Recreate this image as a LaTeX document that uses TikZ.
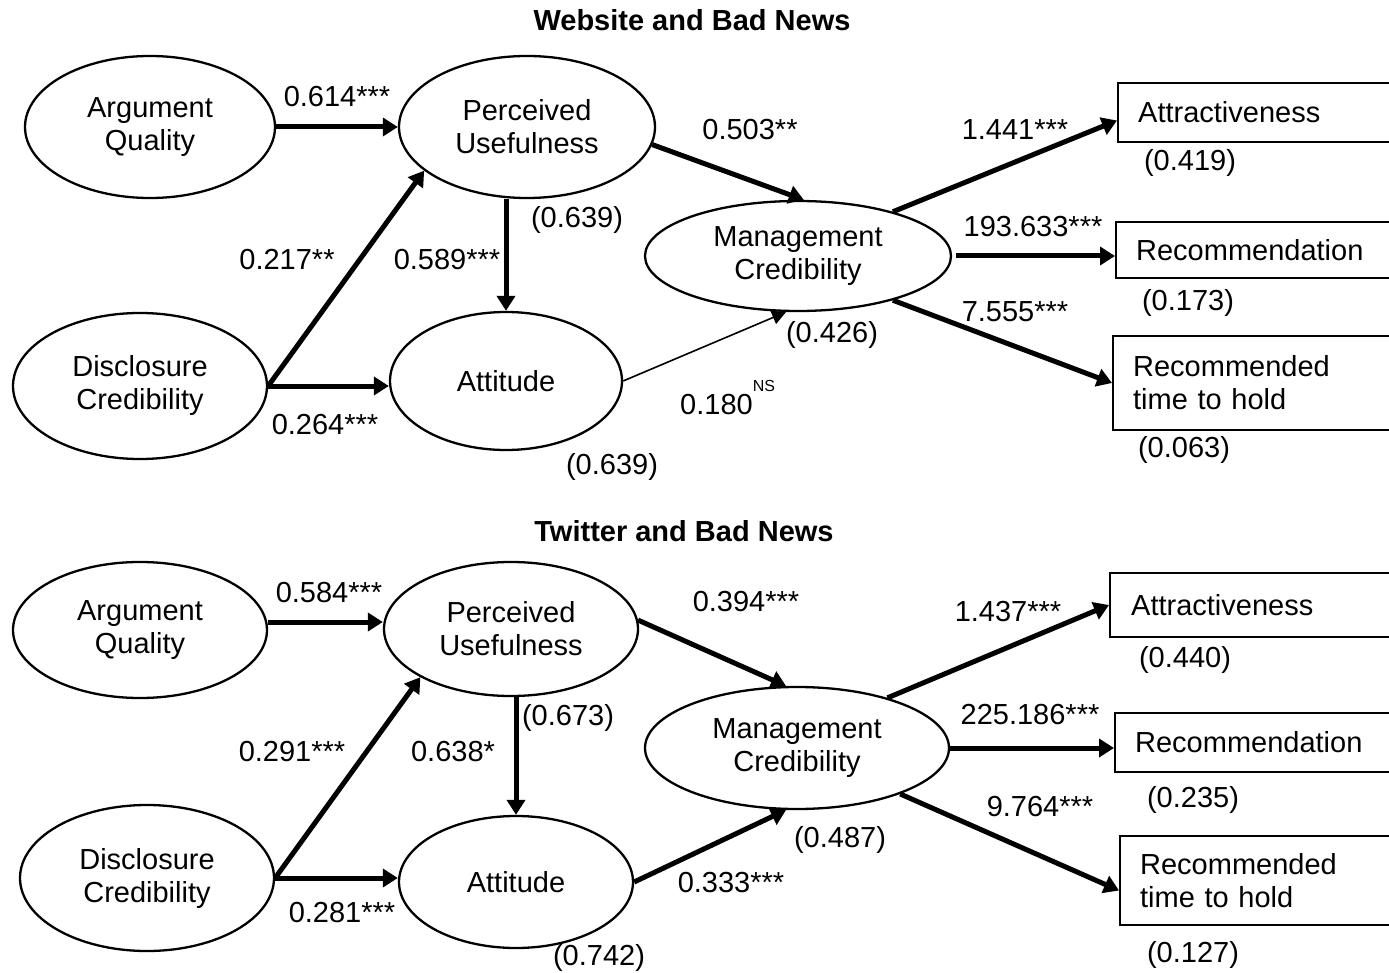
\documentclass[tikz,border=0pt]{standalone}
\usepackage{fontspec}
\setmainfont{Liberation Sans}
\usetikzlibrary{arrows.meta,shapes.geometric,calc}
\begin{document}
\begin{tikzpicture}[x=1pt,y=-1pt,
  font=\fontsize{29}{33}\selectfont,
  lat/.style={ellipse,draw,line width=2.3pt,inner sep=0pt,align=center},
  obs/.style={draw,line width=2.3pt,align=left,inner xsep=20pt,inner ysep=0pt,anchor=west},
  pathar/.style={line width=5pt,-{Triangle[length=15pt,width=18pt]}},
  thinar/.style={line width=1.6pt,-{Triangle[length=14pt,width=14pt]}},
  lbl/.style={inner sep=0pt},
  ttl/.style={inner sep=0pt,font=\fontsize{29}{33}\selectfont\bfseries}]
\useasboundingbox (0,0) rectangle (1389,973);
\fill[white] (0,0) rectangle (1389,973);

% ---------------- top: Website and Bad News
\node[ttl] (t1) at (692,20) {Website and Bad News};
\node[lat,minimum width=250pt,minimum height=142pt] (AQ) at (150,127) {Argument\\Quality};
\node[lat,minimum width=256pt,minimum height=142pt] (PU) at (527,127) {Perceived\\Usefulness};
\node[lat,minimum width=254pt,minimum height=146pt] (DC) at (140,386) {Disclosure\\Credibility};
\node[lat,minimum width=232pt,minimum height=138pt] (Att) at (506,381) {Attitude};
\node[lat,minimum width=306pt,minimum height=110pt] (MC) at (798,256) {Management\\Credibility};
\node[obs,text width=238pt,minimum height=59pt] (Attr) at (1117,112.5) {Attractiveness};
\node[obs,text width=240pt,minimum height=56pt] (Rec) at (1115,250) {Recommendation};
\node[obs,text width=243pt,minimum height=94pt] (RT) at (1112,383) {Recommended\\time to hold};

\draw[pathar] (AQ.east) -- (PU.west);
\draw[pathar] (DC.east) -- (PU.203);
\draw[pathar] (DC.east) -- (DC.east -| Att.west);
\draw[pathar] (Att.north |- PU.south) -- (Att.north);
\draw[pathar] (PU.-8) -- (MC.84);
\draw[thinar] (Att.east) -- (MC.258);
\draw[pathar] (MC.25) -- ($(Attr.west)+(0,8)$);
\draw[pathar] ($(MC.east)+(4,0)$) -- (MC.east -| Rec.west);
\draw[pathar] (MC.-25) -- (RT.west);

\node[lbl] (l1) at (337,97) {0.614***};
\node[lbl] (l2) at (577,220) {(0.639)};
\node[lbl] (l3) at (287,260) {0.217**};
\node[lbl] (l4) at (447,260) {0.589***};
\node[lbl] (l5) at (325,425) {0.264***};
\node[lbl] (l6) at (612,467) {(0.639)};
\node[lbl] (l7) at (750,130) {0.503**};
\node[lbl] (l8) at (1015,130) {1.441***};
\node[lbl] (l9) at (1190,163) {(0.419)};
\node[lbl] (l10) at (1033,227) {193.633***};
\node[lbl] (l11) at (1188,303) {(0.173)};
\node[lbl] (l12) at (1015,312) {7.555***};
\node[lbl] (l13) at (832,335) {(0.426)};
\node[lbl,anchor=base west] (l14) at (680,414) {0.180\raisebox{23pt}{\fontsize{16}{16}\selectfont NS}};
\node[lbl] (l15) at (1184,450) {(0.063)};

% ---------------- bottom: Twitter and Bad News
\node[ttl] (t2) at (684,531) {Twitter and Bad News};
\node[lat,minimum width=254pt,minimum height=136pt] (AQ2) at (140,630) {Argument\\Quality};
\node[lat,minimum width=254pt,minimum height=134pt] (PU2) at (511,629) {Perceived\\Usefulness};
\node[lat,minimum width=254pt,minimum height=146pt] (DC2) at (147,878) {Disclosure\\Credibility};
\node[lat,minimum width=234pt,minimum height=132pt] (Att2) at (516,882) {Attitude};
\node[lat,minimum width=304pt,minimum height=122pt] (MC2) at (797,748) {Management\\Credibility};
\node[obs,inner xsep=21pt,text width=244pt,minimum height=64pt] (Attr2) at (1109,605) {Attractiveness};
\node[obs,text width=241pt,minimum height=59pt] (Rec2) at (1114,742.5) {Recommendation};
\node[obs,text width=236pt,minimum height=89pt] (RT2) at (1119,880.5) {Recommended\\time to hold};

\draw[pathar] ([yshift=8pt]AQ2.east) -- ([yshift=8pt]AQ2.east -| PU2.west);
\draw[pathar] (DC2.east) -- (PU2.208);
\draw[pathar] (DC2.east) -- (DC2.east -| Att2.west);
\draw[pathar] (Att2.north |- PU2.south) -- (Att2.north);
\draw[pathar] (PU2.4) -- (MC2.100);
\draw[pathar] (Att2.east) -- (MC2.260);
\draw[pathar] (MC2.29) -- (Attr2.west);
\draw[pathar] (MC2.east) -- (MC2.east -| Rec2.west);
\draw[pathar] (MC2.-24) -- ($(RT2.west)+(0,10)$);

\node[lbl] (m1) at (329,593) {0.584***};
\node[lbl] (m2) at (568,718) {(0.673)};
\node[lbl] (m3) at (292,752) {0.291***};
\node[lbl] (m4) at (453,752) {0.638*};
\node[lbl] (m5) at (342,913) {0.281***};
\node[lbl] (m6) at (599,958) {(0.742)};
\node[lbl] (m7) at (746,602) {0.394***};
\node[lbl] (m8) at (1008,612) {1.437***};
\node[lbl] (m9) at (1185,660) {(0.440)};
\node[lbl] (m10) at (1030,715) {225.186***};
\node[lbl] (m11) at (1193,800) {(0.235)};
\node[lbl] (m12) at (1040,807) {9.764***};
\node[lbl] (m13) at (840,840) {(0.487)};
\node[lbl] (m14) at (731,883) {0.333***};
\node[lbl] (m15) at (1193,955) {(0.127)};
\end{tikzpicture}
\end{document}
